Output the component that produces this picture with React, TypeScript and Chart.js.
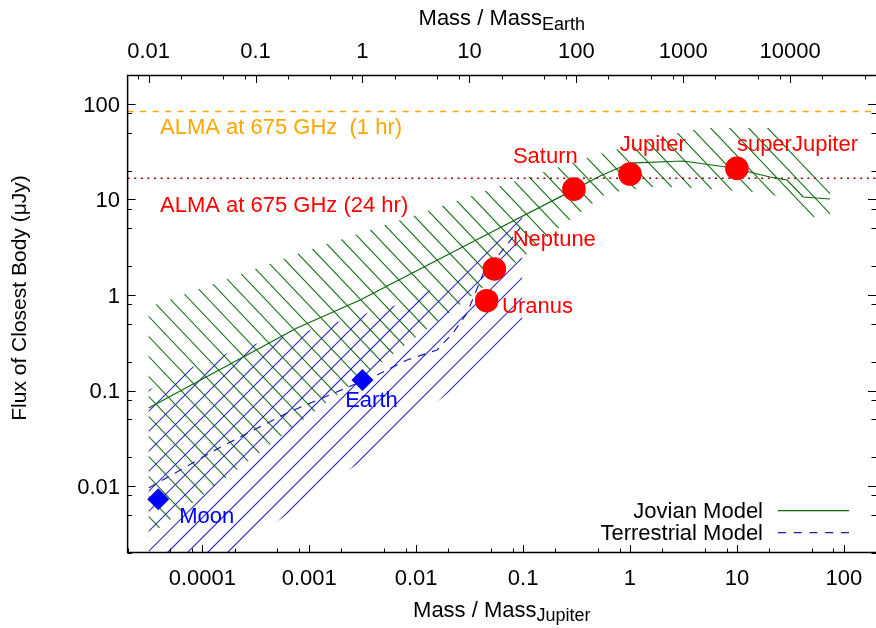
import React, { useEffect, useRef } from 'react';
import { Chart, registerables } from 'chart.js';

Chart.register(...registerables);

// ---------------- data ----------------
const EARTH_MASSES_PER_JUPITER = 317.8;

const xRange = [2e-5, 200]; // Mass / Mass_Jupiter
const yRange = [0.002, 200]; // flux (microJy)

const bottomTicks = [1e-4, 1e-3, 1e-2, 0.1, 1, 10, 100];
const bottomTickLabels = ['0.0001', '0.001', '0.01', '0.1', '1', '10', '100'];
const topTicks = [0.01, 0.1, 1, 10, 100, 1000, 10000];
const topTickLabels = ['0.01', '0.1', '1', '10', '100', '1000', '10000'];
const yTicks = [0.01, 0.1, 1, 10, 100];
const yTickLabels = ['0.01', '0.1', '1', '10', '100'];
const minorMultipliers = [2, 5, 8];

// Jovian model band (upper edge left->right, lower edge right->left)
const jovianUpperMass = [3.15e-5, 8.2e-4, 0.01135, 0.0571, 0.423, 2.27, 4.83, 28.2, 48.4, 74.5];
const jovianUpperFlux = [0.748, 2.75, 7.2, 13.5, 27.8, 47.1, 55.8, 55.8, 25.8, 16.7];
const jovianLowerMass = [74.5, 51.6, 20.4, 7.43, 2.94, 1.64, 0.61, 0.222, 0.1, 0.0221, 8.75e-4, 3.24e-5, 3.15e-5];
const jovianLowerFlux = [6.87, 6.54, 11.66, 12.5, 13.5, 13.5, 11.66, 5.14, 2.5, 0.697, 0.0492, 0.00309, 0.00294];

// Terrestrial model band
const terrUpperMass = [3.15e-5, 7.67e-5, 2.41e-4, 1.02e-3, 3.55e-3, 6.62e-3, 0.0221, 0.098];
const terrUpperFlux = [0.1014, 0.172, 0.2856, 0.43, 0.648, 0.785, 1.434, 9.39];
const terrLowerMass = [0.098, 3.19e-3, 6.61e-4, 3.15e-5];
const terrLowerFlux = [0.3814, 0.01878, 0.00537, 3.98e-4];

// Model curves
const jovianModelMass = [3.15e-5, 7.68e-4, 2.99e-3, 0.0396, 0.294, 0.525, 1.0, 3.14, 9.21, 20.4, 29.5, 41.6, 74.5];
const jovianModelFlux = [0.0657, 0.4516, 0.886, 3.94, 12.5, 17.56, 24.0, 25.2, 21.3, 17.15, 15.95, 10.59, 10.09];
const terrModelMass = [3.15e-5, 1.46e-4, 6.2e-4, 2.57e-3, 3.95e-3, 8.22e-3, 0.01567, 0.0221, 0.02993, 0.0422, 0.0679, 0.0938];
const terrModelFlux = [0.00957, 0.02544, 0.0583, 0.1144, 0.1387, 0.2089, 0.2657, 0.4002, 0.648, 1.658, 3.176, 5.02];

// Bodies
const giantNames = ['Uranus', 'Neptune', 'Saturn', 'Jupiter', 'superJupiter'];
const giantMass = [0.0457, 0.0539, 0.299, 1.0, 10.0];
const giantFlux = [0.871, 1.87, 12.8, 18.4, 21.1];
const rockyNames = ['Moon', 'Earth'];
const rockyMass = [3.87e-5, 3.146e-3];
const rockyFlux = [0.00729, 0.129];

// ALMA sensitivity limits
const alma1hrFlux = 83;
const alma24hrFlux = 16.6;
const alma1hrLabel = 'ALMA at 675 GHz  (1 hr)';
const alma24hrLabel = 'ALMA at 675 GHz (24 hr)';

// label offsets in pixels from marker (layout only)
const giantLabelOffsets = [[15.4, 12], [18.3, -23.3], [-61, -26.3], [-10.3, -23], [0, -17.3]];
const rockyLabelOffsets = [[21, 23.4], [-17.3, 27.3]];

// ---------------- styling ----------------
const FONT = '"Liberation Sans", Arial, Helvetica, sans-serif';
const GREEN = '#0a6a0a';
const NAVY = '#1c1cb4';

// hatch styles per band dataset label (screen slope, vertical spacing in px)
const HATCH: Record<string, { color: string; slope: number; spacing: number; width: number }> = {
  'jovian band': { color: '#197519', slope: 20 / 19, spacing: 20, width: 1.15 },
  'terrestrial band': { color: '#2e2ec4', slope: -1, spacing: 20, width: 1.2 },
};

function pts(xs: number[], ys: number[]) {
  return xs.map((x, i) => ({ x, y: ys[i] }));
}

function logTicks(min: number, max: number) {
  const out: { v: number; major: boolean }[] = [];
  for (let d = Math.floor(Math.log10(min)); d <= Math.ceil(Math.log10(max)); d++) {
    const base = Math.pow(10, d);
    for (const m of [1, ...minorMultipliers]) {
      const v = m * base;
      if (v >= min * 0.99999 && v <= max * 1.00001) out.push({ v, major: m === 1 });
    }
  }
  return out;
}

const hatchPlugin = {
  id: 'hatchFill',
  beforeDatasetDraw(chart: any, args: any) {
    const ds = chart.data.datasets[args.index];
    const h = HATCH[ds.label];
    if (!h) return;
    const points = args.meta.data;
    if (!points || !points.length) return;
    const ctx: CanvasRenderingContext2D = chart.ctx;
    const a = chart.chartArea;
    ctx.save();
    ctx.beginPath();
    ctx.rect(a.left, a.top, a.right - a.left, a.bottom - a.top);
    ctx.clip();
    ctx.beginPath();
    points.forEach((p: any, i: number) => (i ? ctx.lineTo(p.x, p.y) : ctx.moveTo(p.x, p.y)));
    ctx.closePath();
    ctx.clip();
    ctx.strokeStyle = h.color;
    ctx.lineWidth = h.width;
    ctx.beginPath();
    const W = chart.width;
    const H = chart.height;
    const cs = [0, -h.slope * W, H, H - h.slope * W];
    const cmin = Math.min(...cs);
    const cmax = Math.max(...cs);
    for (let c = Math.floor(cmin / h.spacing) * h.spacing; c <= cmax; c += h.spacing) {
      ctx.moveTo(0, c);
      ctx.lineTo(W, h.slope * W + c);
    }
    ctx.stroke();
    ctx.restore();
  },
};

const overlayPlugin = {
  id: 'gnuplotOverlay',
  afterDraw(chart: any) {
    const ctx: CanvasRenderingContext2D = chart.ctx;
    const { left, right, top, bottom } = chart.chartArea;
    const xs = chart.scales.x;
    const x2 = chart.scales.x2;
    const ys = chart.scales.y;
    ctx.save();

    // frame
    ctx.strokeStyle = '#000';
    ctx.lineWidth = 1.5;
    ctx.beginPath();
    ctx.moveTo(right + 2, top + 0.5);
    ctx.lineTo(left, top + 0.5);
    ctx.lineTo(left, bottom - 0.5);
    ctx.lineTo(right + 2, bottom - 0.5);
    ctx.stroke();

    // ticks
    ctx.lineWidth = 1;
    ctx.beginPath();
    for (const t of logTicks(xs.min, xs.max)) {
      const p = Math.round(xs.getPixelForValue(t.v)) + 0.5;
      const len = t.major ? 8 : 4.5;
      ctx.moveTo(p, bottom);
      ctx.lineTo(p, bottom - len);
    }
    for (const t of logTicks(x2.min, x2.max)) {
      const p = Math.round(x2.getPixelForValue(t.v)) + 0.5;
      const len = t.major ? 8 : 4.5;
      ctx.moveTo(p, top);
      ctx.lineTo(p, top + len);
    }
    for (const t of logTicks(ys.min, ys.max)) {
      const p = Math.round(ys.getPixelForValue(t.v)) + 0.5;
      const len = t.major ? 8 : 4.5;
      ctx.moveTo(left, p);
      ctx.lineTo(left + len, p);
      ctx.moveTo(right, p);
      ctx.lineTo(right - len, p);
    }
    ctx.stroke();

    // tick labels
    ctx.fillStyle = '#000';
    ctx.font = `22px ${FONT}`;
    ctx.textBaseline = 'alphabetic';
    ctx.textAlign = 'center';
    bottomTicks.forEach((v, i) => ctx.fillText(bottomTickLabels[i], xs.getPixelForValue(v), bottom + 31.5));
    topTicks.forEach((v, i) => ctx.fillText(topTickLabels[i], x2.getPixelForValue(v), top - 17));
    ctx.textAlign = 'right';
    yTicks.forEach((v, i) => ctx.fillText(yTickLabels[i], left - 7.6, ys.getPixelForValue(v) + 7.9));

    // axis titles with subscripts
    const cx = (left + right) / 2;
    const drawSub = (main: string, sub: string, baseline: number, subBaseline: number) => {
      ctx.font = `22px ${FONT}`;
      const w1 = ctx.measureText(main).width;
      ctx.font = `18px ${FONT}`;
      const w2 = ctx.measureText(sub).width;
      const x0 = cx - (w1 + w2) / 2;
      ctx.textAlign = 'left';
      ctx.font = `22px ${FONT}`;
      ctx.fillText(main, x0, baseline);
      ctx.font = `18px ${FONT}`;
      ctx.fillText(sub, x0 + w1, subBaseline);
    };
    drawSub('Mass / Mass', 'Jupiter', bottom + 63.7, bottom + 68);
    drawSub('Mass / Mass', 'Earth', top - 50, top - 45);

    ctx.save();
    ctx.font = `21px ${FONT}`;
    ctx.textAlign = 'center';
    ctx.translate(26.4, 298);
    ctx.rotate(-Math.PI / 2);
    ctx.fillText('Flux of Closest Body (\u03BCJy)', 0, 0);
    ctx.restore();

    // ALMA labels
    ctx.font = `22px ${FONT}`;
    ctx.textAlign = 'left';
    ctx.fillStyle = '#ffa500';
    ctx.fillText(alma1hrLabel, left + 32.4, ys.getPixelForValue(alma1hrFlux) + 22.3);
    ctx.fillStyle = '#ff0000';
    ctx.fillText(alma24hrLabel, left + 32.4, ys.getPixelForValue(alma24hrFlux) + 33.4);

    // body labels
    ctx.fillStyle = '#ff0000';
    giantNames.forEach((n, i) => {
      const px = xs.getPixelForValue(giantMass[i]);
      const py = ys.getPixelForValue(giantFlux[i]);
      ctx.fillText(n, px + giantLabelOffsets[i][0], py + giantLabelOffsets[i][1]);
    });
    ctx.fillStyle = '#0000ff';
    rockyNames.forEach((n, i) => {
      const px = xs.getPixelForValue(rockyMass[i]);
      const py = ys.getPixelForValue(rockyFlux[i]);
      ctx.fillText(n, px + rockyLabelOffsets[i][0], py + rockyLabelOffsets[i][1]);
    });

    // legend
    ctx.fillStyle = '#000';
    ctx.textAlign = 'right';
    ctx.fillText('Jovian Model', right - 113, bottom - 35.5);
    ctx.fillText('Terrestrial Model', right - 113, bottom - 13.5);
    ctx.lineWidth = 1.2;
    ctx.strokeStyle = GREEN;
    ctx.beginPath();
    ctx.moveTo(right - 98, bottom - 42.3);
    ctx.lineTo(right - 27, bottom - 42.3);
    ctx.stroke();
    ctx.strokeStyle = NAVY;
    ctx.setLineDash([8, 7.75]);
    ctx.beginPath();
    ctx.moveTo(right - 98, bottom - 20.3);
    ctx.lineTo(right - 27, bottom - 20.3);
    ctx.stroke();
    ctx.setLineDash([]);

    ctx.restore();
  },
};

export default function App() {
  const ref = useRef<HTMLCanvasElement>(null);

  useEffect(() => {
    const canvas = ref.current!;
    const jovianBand = [...pts(jovianUpperMass, jovianUpperFlux), ...pts(jovianLowerMass, jovianLowerFlux)];
    const terrBand = [...pts(terrUpperMass, terrUpperFlux), ...pts(terrLowerMass, terrLowerFlux)];

    const chart = new Chart(canvas, {
      type: 'line',
      data: {
        datasets: [
          {
            label: 'giants',
            data: pts(giantMass, giantFlux),
            showLine: false,
            pointRadius: 11.8,
            pointBackgroundColor: '#ff0000',
            pointBorderWidth: 0,
            borderColor: '#ff0000',
            order: 0,
          },
          {
            label: 'rocky',
            data: pts(rockyMass, rockyFlux),
            showLine: false,
            pointStyle: 'rectRot',
            pointRadius: 11,
            pointBackgroundColor: '#0000ff',
            pointBorderWidth: 0,
            borderColor: '#0000ff',
            order: 1,
          },
          {
            label: 'Jovian Model',
            data: pts(jovianModelMass, jovianModelFlux),
            borderColor: GREEN,
            borderWidth: 1.2,
            pointRadius: 0,
            fill: false,
            tension: 0,
            order: 2,
          },
          {
            label: 'Terrestrial Model',
            data: pts(terrModelMass, terrModelFlux),
            borderColor: NAVY,
            borderWidth: 1.2,
            borderDash: [8, 7],
            pointRadius: 0,
            fill: false,
            tension: 0,
            order: 3,
          },
          {
            label: 'ALMA 1 hr',
            data: pts(xRange, [alma1hrFlux, alma1hrFlux]),
            borderColor: '#ffa500',
            borderWidth: 1.5,
            borderDash: [6, 6.5],
            pointRadius: 0,
            fill: false,
            order: 4,
          },
          {
            label: 'ALMA 24 hr',
            data: pts(xRange, [alma24hrFlux, alma24hrFlux]),
            borderColor: '#a00000',
            borderWidth: 1.5,
            borderDash: [2, 4.6],
            pointRadius: 0,
            fill: false,
            order: 5,
          },
          {
            label: 'terrestrial band',
            data: terrBand,
            showLine: false,
            borderWidth: 0,
            borderColor: 'rgba(0,0,0,0)',
            pointRadius: 0,
            fill: false,
            order: 6,
          },
          {
            label: 'jovian band',
            data: jovianBand,
            showLine: false,
            borderWidth: 0,
            borderColor: 'rgba(0,0,0,0)',
            pointRadius: 0,
            fill: false,
            order: 7,
          },
        ] as any,
      },
      options: {
        animation: false,
        responsive: false,
        devicePixelRatio: 1,
        events: [],
        layout: { padding: 0, autoPadding: false },
        plugins: {
          legend: { display: false },
          tooltip: { enabled: false },
          title: { display: false },
        },
        scales: {
          x: {
            type: 'logarithmic',
            position: 'bottom',
            bounds: 'data',
            min: xRange[0],
            max: xRange[1],
            display: true,
            grid: { display: false, drawTicks: false },
            border: { display: false },
            ticks: { display: false },
            afterFit: (s: any) => {
              s.height = 75;
            },
          },
          x2: {
            type: 'logarithmic',
            position: 'top',
            bounds: 'data',
            min: xRange[0] * EARTH_MASSES_PER_JUPITER,
            max: xRange[1] * EARTH_MASSES_PER_JUPITER,
            display: true,
            grid: { display: false, drawTicks: false },
            border: { display: false },
            ticks: { display: false },
            afterFit: (s: any) => {
              s.height = 75;
            },
          },
          y: {
            type: 'logarithmic',
            position: 'left',
            bounds: 'data',
            min: yRange[0],
            max: yRange[1],
            display: true,
            grid: { display: false, drawTicks: false },
            border: { display: false },
            ticks: { display: false },
            afterFit: (s: any) => {
              s.width = 127.6;
            },
          },
        } as any,
      },
      plugins: [hatchPlugin, overlayPlugin],
    });
    return () => chart.destroy();
  }, []);

  return (
    <div
      style={{
        position: 'fixed',
        left: 0,
        top: 0,
        width: 876,
        height: 628,
        overflow: 'hidden',
        background: '#fff',
      }}
    >
      <canvas ref={ref} width={876} height={628} style={{ display: 'block', width: 876, height: 628 }} />
    </div>
  );
}
